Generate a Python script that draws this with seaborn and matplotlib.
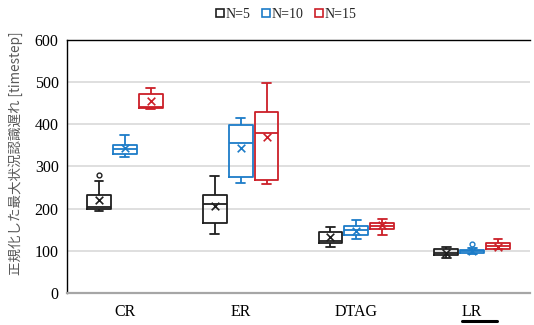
import numpy as np
import pandas as pd
import matplotlib
matplotlib.use("Agg")
import matplotlib.pyplot as plt
from matplotlib.lines import Line2D
import seaborn as sns

categories = ["CR", "ER", "DTAG", "LR"]
series = ["N=5", "N=10", "N=15"]
colors = ["#1f1f1f", "#1c7cc8", "#cc1f28"]

# five-number summaries
whislo = {"N=5": [195, 140, 110, 82], "N=10": [323, 262, 127, 92], "N=15": [437, 258, 137, 104]}
q1 = {"N=5": [200, 165, 118, 90], "N=10": [330, 276, 137, 96], "N=15": [438, 268, 151, 104]}
med = {"N=5": [205, 211, 124, 96], "N=10": [341, 355, 149, 99], "N=15": [442, 379, 159, 111]}
q3 = {"N=5": [232, 232, 145, 104], "N=10": [352, 398, 160, 103], "N=15": [471, 430, 167, 118]}
whishi = {"N=5": [265, 277, 157, 110], "N=10": [374, 414, 173, 106], "N=15": [485, 499, 175, 128]}
means = {"N=5": [220, 206, 132, 95], "N=10": [345, 343, 148, 100], "N=15": [455, 371, 161, 110]}
outliers = {"N=5": [[280], [], [], []], "N=10": [[], [], [], [116]], "N=15": [[], [], [], []]}

rows = []
for s in series:
    for ci, c in enumerate(categories):
        for v in (whislo[s][ci], q1[s][ci], med[s][ci], q3[s][ci], whishi[s][ci]):
            rows.append({"cat": c, "N": s, "val": v})
df = pd.DataFrame(rows)

sns.set_theme(style="white")
fig = plt.figure(figsize=(5.34, 3.25), dpi=100)
ax = fig.add_axes([0.1255, 0.0985, 0.867, 0.7785])

WIDTH = 0.672
sns.boxplot(data=df, x="cat", y="val", hue="N", order=categories, hue_order=series,
            palette=colors, fill=False, width=WIDTH, gap=0.08, whis=np.inf,
            showfliers=False, linewidth=1.3, legend=False, ax=ax)

sub = WIDTH / len(series)
# narrow the whisker caps (shorter than box width)
for ln in ax.lines:
    xd = np.asarray(ln.get_xdata(), dtype=float)
    yd = np.asarray(ln.get_ydata(), dtype=float)
    if len(xd) == 2 and yd[0] == yd[1]:
        w = abs(xd[1] - xd[0])
        if w < sub * 0.8:
            c = xd.mean()
            half = sub * 0.17
            ln.set_xdata([c - half, c + half])

for si, s in enumerate(series):
    off = (si - (len(series) - 1) / 2) * sub
    xs = [ci + off for ci in range(len(categories))]
    ax.scatter(xs, means[s], marker="x", s=30, color=colors[si], linewidths=1.2, zorder=5)
    for ci in range(len(categories)):
        for o in outliers[s][ci]:
            ax.scatter([ci + off], [o], marker="o", s=12, facecolors="white",
                       edgecolors=colors[si], linewidths=1.0, zorder=5)

ax.set_ylim(0, 600)
ax.set_xlim(-0.5, 3.5)
ax.set_yticks(range(0, 601, 100))
ax.yaxis.grid(True, color="#d9d9d9", linewidth=1.2)
ax.set_axisbelow(True)
ax.set_xlabel("")
ax.set_ylabel("正規化した最大状況認識遅れ [timestep]", family=["Noto Sans CJK JP", "DejaVu Sans"],
              fontsize=9.7, color="#595959")
ax.yaxis.set_label_coords(-0.0943, 0.553)
for lab in ax.get_xticklabels() + ax.get_yticklabels():
    lab.set_family("Liberation Serif")
    lab.set_fontsize(11.5)
    lab.set_color("black")
ax.tick_params(axis="both", length=0, pad=6)
ax.tick_params(axis="x", pad=8)

ax.spines["right"].set_visible(False)
ax.spines["left"].set_color("black")
ax.spines["left"].set_linewidth(1.0)
ax.spines["top"].set_color("black")
ax.spines["top"].set_linewidth(1.0)
ax.spines["bottom"].set_color("#a6a6a6")
ax.spines["bottom"].set_linewidth(1.6)

handles = [Line2D([], [], marker="s", linestyle="none", markerfacecolor="white",
                  markeredgecolor=c, markersize=6, markeredgewidth=1.2) for c in colors]
fig.legend(handles, series, loc="center", bbox_to_anchor=(284 / 534, 1 - 14 / 325), ncol=3,
           frameon=False, handletextpad=-0.2, columnspacing=0.5, handlelength=1.2,
           prop={"family": "Liberation Serif", "size": 10})

fig.add_artist(Line2D([462 / 534, 497 / 534], [1 - 321 / 325, 1 - 321 / 325],
                      color="black", linewidth=2.2, transform=fig.transFigure))

fig.savefig("out.png", dpi=100)
